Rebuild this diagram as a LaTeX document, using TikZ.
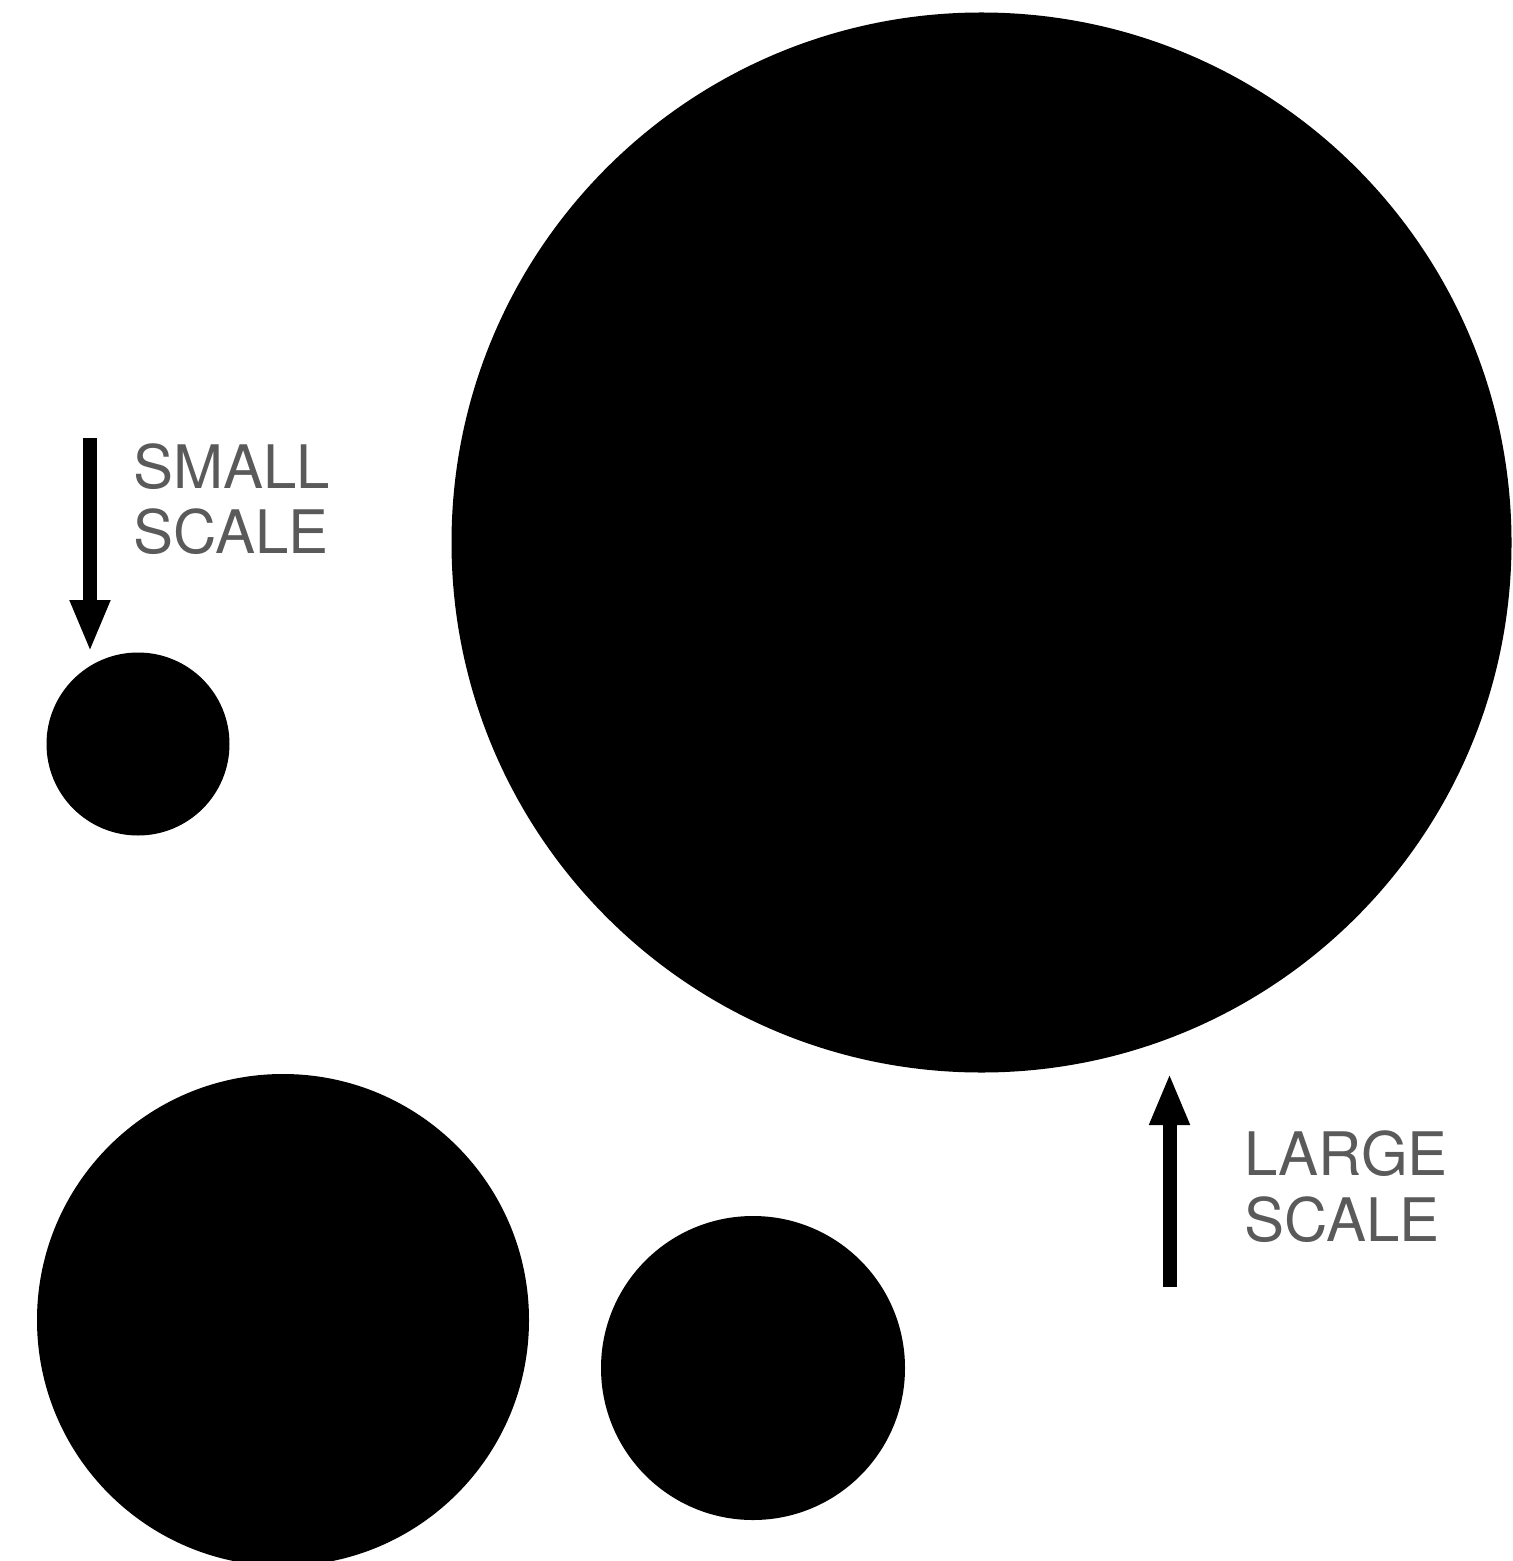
\documentclass[tikz,border=0pt]{standalone}
\usepackage{fontspec}
\newfontfamily\labelfont{TeX Gyre Heros}
\usepackage{tikz}
\usetikzlibrary{positioning,arrows.meta}
\usepackage{xcolor}
\definecolor{ink}{HTML}{000000}
\definecolor{muted}{HTML}{5A5A5A}

\begin{document}
\begin{tikzpicture}[x=0.5pt, y=-0.5pt, >={Triangle[length=26pt, width=18.5pt]}]
    \useasboundingbox (0,0) rectangle (1512,1561);
    % scales, one disc each
    \node[circle, fill=ink, inner sep=0, minimum size=530pt] (huge) at (981.5,542.5) {};
    \node[circle, fill=ink, inner sep=0, minimum size=91.5pt] (tiny) at (138,744) {};
    \node[circle, fill=ink, inner sep=0, minimum size=246pt] (wide) at (283,1320) {};
    \node[circle, fill=ink, inner sep=0, minimum size=152pt] (mid) at (753,1368) {};
    % direction markers
    \coordinate (down0) at (90,438);
    \coordinate (down1) at (90,652);
    \coordinate (up0) at (1169.5,1287);
    \coordinate (up1) at (1169.5,1073);
    \draw[->, line width=7pt, ink] (down0) -- (down1);
    \draw[->, line width=7pt, ink] (up0) -- (up1);
    \node[anchor=north west, inner sep=0, align=left, text=muted,
          font=\labelfont\fontsize{30}{32.5}\selectfont] (small) at (133,443)
         {SMALL\\ SCALE};
    \node[anchor=north west, inner sep=0, align=left, text=muted,
          font=\labelfont\fontsize{30}{33}\selectfont] (large) at (1244,1130)
         {LARGE\\ SCALE};
  \end{tikzpicture}
\end{document}
